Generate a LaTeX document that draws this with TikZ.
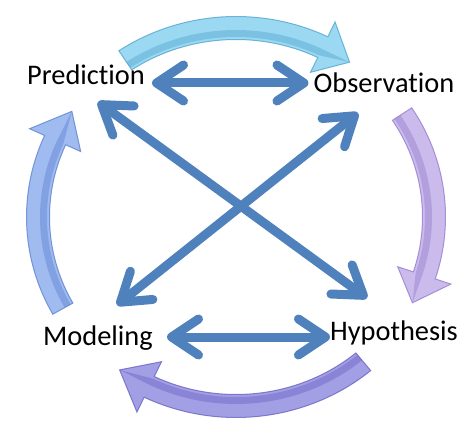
\documentclass[tikz,border=0pt]{standalone}
\usepackage{fontspec}
\setmainfont[Ligatures=NoCommon]{Carlito}
\usetikzlibrary{arrows.meta}

\definecolor{linkblue}{RGB}{79,129,189}
\definecolor{cyanfill}{RGB}{130,208,240}
\definecolor{cyanedge}{RGB}{85,165,205}
\definecolor{lilacfill}{RGB}{190,170,232}
\definecolor{lilacedge}{RGB}{150,125,205}
\definecolor{violetfill}{RGB}{140,135,222}
\definecolor{violetedge}{RGB}{105,100,195}
\definecolor{bluefill}{RGB}{135,170,235}
\definecolor{blueedge}{RGB}{95,130,210}

% tail angle, band end, tip angle, fill, edge
\newcommand{\cyclearrow}[5]{%
  \fill[#4, draw=#5, line width=1pt, opacity=.8]
    (#1:209.5pt and 200.5pt) arc[start angle=#1, end angle=#2, x radius=209.5pt, y radius=200.5pt]
    -- (#2:226pt and 217pt) -- (#3:198pt and 189pt) -- (#2:170pt and 161pt)
    -- (#2:186.5pt and 177.5pt) arc[start angle=#2, end angle=#1, x radius=186.5pt, y radius=177.5pt]
    -- cycle;
  \fill[#5, opacity=.45]
    (#1:196pt and 187pt) arc[start angle=#1, end angle=#2, x radius=196pt, y radius=187pt]
    -- (#3:198pt and 189pt)
    -- (#2:189pt and 180pt) arc[start angle=#2, end angle=#1, x radius=189pt, y radius=180pt]
    -- cycle;}

\tikzset{
  lbl/.style={inner sep=0pt, anchor=base, font=\fontsize{28.4pt}{34pt}\selectfont},
  link/.style={draw=linkblue, line width=9pt,
    {Straight Barb[round,length=27pt,width=36pt]}-{Straight Barb[round,length=27pt,width=36pt]}}
}

\begin{document}
\begin{tikzpicture}[x=1pt, y=1pt]
\useasboundingbox (0,0) rectangle (472,424);
% outer cycle
\begin{scope}[shift={(236,207)}]
\cyclearrow{124}{64}{55}{cyanfill}{cyanedge}
\cyclearrow{33}{-18}{-27}{lilacfill}{lilacedge}
\cyclearrow{-50}{-116}{-126}{violetfill}{violetedge}
\cyclearrow{209}{156}{146}{bluefill}{blueedge}
\end{scope}
% labels
\node[lbl] (pred) at (86,339) {Prediction};
\node[lbl] (obs) at (384,331) {Observation};
\node[lbl] (mod) at (98,79) {Modeling};
\node[lbl] (hyp) at (394,84) {Hypothesis};
% links
\draw[link] ([shift={(7,2)}]pred.base east) -- ([shift={(-5,10)}]obs.base west);
\draw[link] ([shift={(14,8)}]mod.base east) -- ([shift={(0,3)}]hyp.base west);
\draw[link] ([shift={(12,-17)}]pred.base) -- ([shift={(-27,42)}]hyp.base);
\draw[link] ([shift={(19,40)}]mod.base) -- ([shift={(-26,-20)}]obs.base);
\end{tikzpicture}
\end{document}
